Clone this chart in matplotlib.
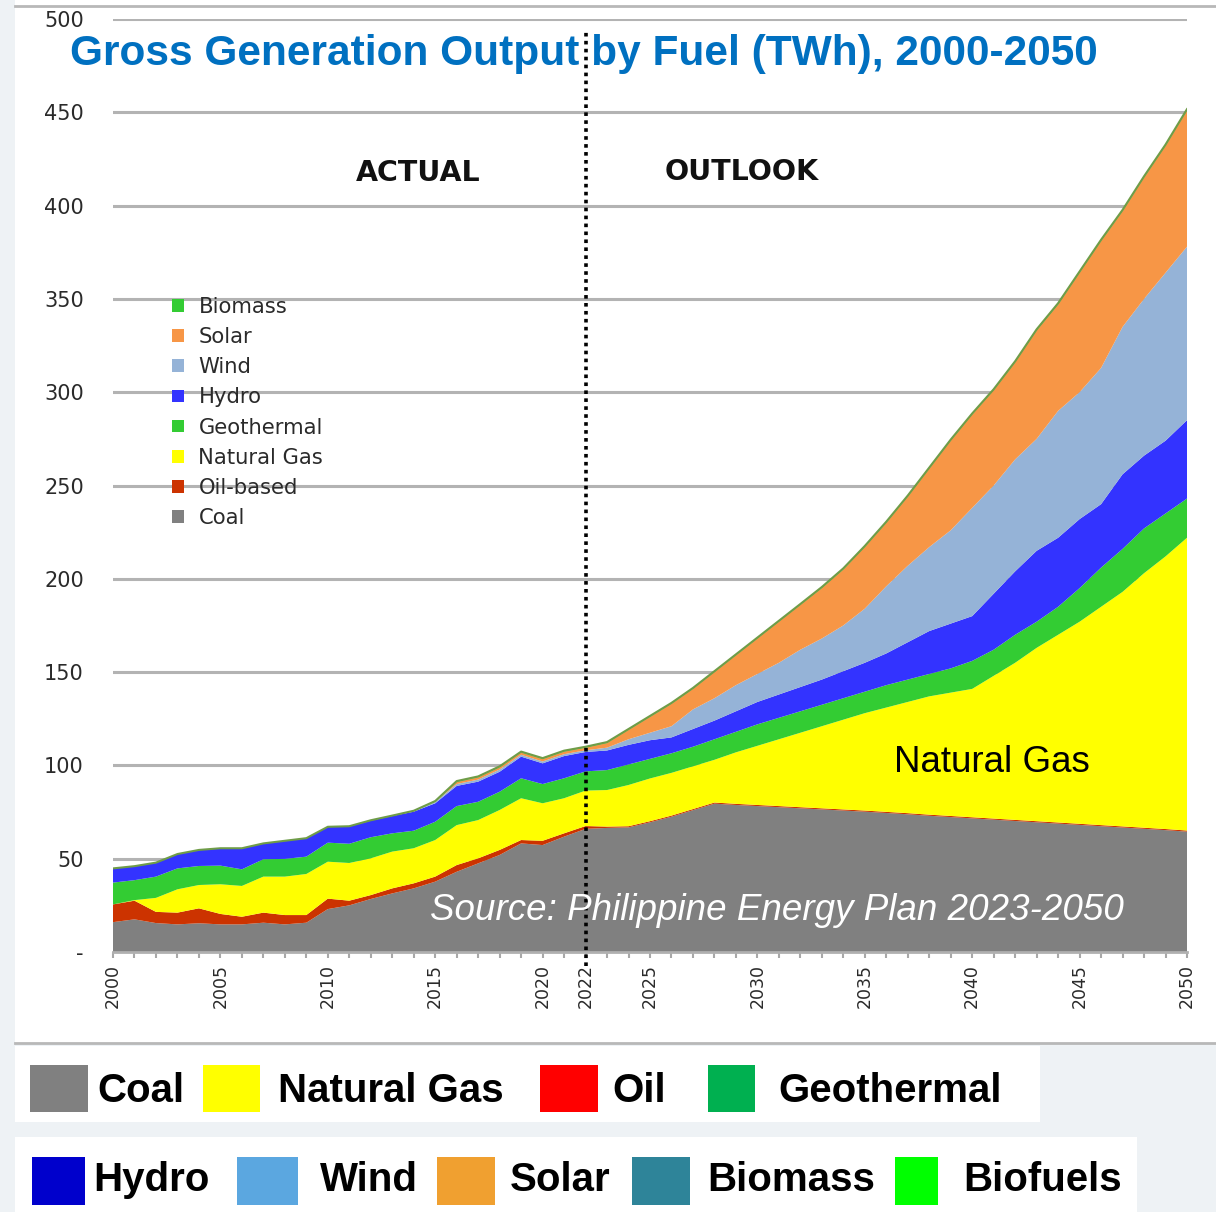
import matplotlib.pyplot as plt
from matplotlib.patches import Patch, Rectangle
import numpy as np

years = list(range(2000, 2051))

# TWh by fuel, 2000-2022 actual then 2023-2050 outlook
coal = [16.0, 17.5, 15.5, 14.8, 15.4, 14.8, 14.8, 15.7, 14.8, 15.7, 23.0, 25.0,
        28.4, 31.4, 34.1, 37.7, 43.0, 47.5, 52.0, 58.2, 57.3, 61.8, 66.0,
        66.5, 66.8, 69.5, 72.5, 76.0, 79.5, 78.8, 78.2, 77.6, 77.0, 76.4, 75.8,
        75.2, 74.5, 73.8, 73.0, 72.3, 71.6, 70.9, 70.2, 69.5, 68.8, 68.1, 67.4,
        66.7, 66.0, 65.3, 64.5]
oil = [9.5, 10.0, 6.0, 6.3, 8.0, 5.6, 4.1, 5.4, 5.0, 4.1, 5.6, 2.5,
       2.1, 2.7, 2.7, 2.7, 3.6, 2.7, 2.7, 1.8, 2.3, 1.8, 1.5,
       0.7, 0.6, 0.6, 0.6, 0.6, 0.6, 0.6, 0.6, 0.6, 0.6, 0.6, 0.6,
       0.6, 0.6, 0.6, 0.6, 0.6, 0.6, 0.6, 0.6, 0.6, 0.6, 0.6, 0.6,
       0.6, 0.6, 0.6, 0.6]
gas = [0.0, 0.3, 7.5, 12.5, 12.5, 15.9, 16.5, 19.3, 20.6, 22.0, 19.8, 20.2,
       19.7, 19.7, 18.8, 19.6, 21.4, 20.5, 21.4, 22.4, 20.1, 18.8, 19.0,
       19.6, 22.1, 22.9, 22.9, 22.9, 22.9, 27.6, 31.7, 35.8, 39.9, 44.0, 48.1,
       52.2, 55.9, 59.6, 63.4, 66.1, 68.8, 76.5, 84.2, 92.9, 100.6, 108.3, 117.0,
       125.7, 136.4, 146.1, 156.9]
geothermal = [11.7, 10.7, 11.4, 11.2, 10.2, 10.0, 8.9, 9.3, 9.5, 9.3, 10.2, 10.3,
              11.3, 9.8, 9.4, 9.8, 10.2, 9.8, 9.8, 10.7, 10.3, 10.7, 10.3,
              10.7, 11.0, 10.5, 10.5, 10.5, 11.0, 11.0, 11.5, 11.5, 11.5, 11.5, 11.5,
              11.5, 12.0, 12.0, 12.0, 13.0, 15.0, 14.0, 15.0, 14.0, 15.0, 18.0, 21.0,
              23.0, 24.0, 23.0, 21.0]
hydro = [7.6, 7.5, 7.5, 7.7, 8.6, 9.3, 11.3, 8.5, 9.7, 9.8, 8.4, 9.3,
         8.9, 9.3, 10.2, 9.9, 10.8, 10.8, 10.7, 11.6, 11.1, 11.9, 10.4,
         10.5, 10.5, 10.0, 8.5, 9.5, 10.0, 11.0, 12.0, 12.5, 13.0, 13.5, 14.5,
         15.5, 17.0, 20.0, 23.0, 24.0, 24.0, 30.0, 34.0, 38.0, 37.0, 37.0, 34.0,
         40.0, 39.0, 39.0, 42.0]
wind = [0.0, 0.0, 0.0, 0.0, 0.0, 0.0, 0.0, 0.0, 0.0, 0.0, 0.0, 0.0,
        0.0, 0.0, 0.3, 0.7, 1.0, 1.1, 1.2, 1.0, 1.0, 1.0, 0.9,
        1.5, 3.0, 4.0, 6.0, 10.5, 12.0, 14.0, 15.0, 17.0, 20.0, 22.0, 24.5,
        29.0, 36.0, 41.0, 45.0, 50.0, 58.0, 58.0, 60.0, 60.0, 68.0, 68.0, 73.0,
        79.0, 84.0, 90.0, 93.0]
solar = [0.0, 0.0, 0.0, 0.0, 0.0, 0.0, 0.0, 0.0, 0.0, 0.0, 0.0, 0.0,
         0.0, 0.0, 0.0, 0.1, 1.1, 1.2, 1.2, 1.2, 1.3, 1.4, 1.4,
         2.5, 5.0, 8.5, 12.0, 11.0, 14.0, 16.0, 19.0, 22.0, 24.0, 27.0, 30.0,
         33.0, 34.0, 37.0, 42.0, 48.0, 50.0, 51.0, 52.0, 58.0, 57.0, 64.0, 68.0,
         62.0, 65.0, 68.0, 73.0]
biomass = [0.0, 0.0, 0.0, 0.0, 0.0, 0.0, 0.0, 0.0, 0.0, 0.1, 0.1, 0.1,
           0.2, 0.2, 0.2, 0.4, 0.5, 0.5, 0.5, 0.5, 0.5, 0.5, 0.5,
           0.5, 0.5, 0.5, 0.5, 0.5, 0.5, 0.5, 0.5, 0.5, 0.5, 0.6, 0.6,
           0.6, 0.6, 0.6, 0.6, 0.6, 0.6, 0.6, 0.6, 0.7, 0.7, 0.7, 0.7,
           0.7, 0.7, 0.7, 0.7]

series = [coal, oil, gas, geothermal, hydro, wind, solar, biomass]
fill_colors = ['#808080', '#cc3300', '#ffff00', '#33cc33', '#3333ff',
               '#95b3d7', '#f79646', '#33cc33']

legend_labels = ['Biomass', 'Solar', 'Wind', 'Hydro', 'Geothermal',
                 'Natural Gas', 'Oil-based', 'Coal']
legend_colors = ['#33cc33', '#f79646', '#95b3d7', '#3333ff', '#33cc33',
                 '#ffff00', '#cc3300', '#808080']

xtick_years = [2000, 2005, 2010, 2015, 2020, 2022, 2025, 2030, 2035, 2040, 2045, 2050]
ytick_vals = list(range(0, 501, 50))

key_row1 = ['Coal', 'Natural Gas', 'Oil', 'Geothermal']
key_row1_colors = ['#808080', '#ffff00', '#ff0000', '#00b050']
key_row2 = ['Hydro', 'Wind', 'Solar', 'Biomass', 'Biofuels']
key_row2_colors = ['#0000cc', '#5ba7e0', '#f0a030', '#2e8499', '#00ff00']

W, H = 1216, 1212
def fx(x):
    return x / W
def fy(y):
    return 1 - y / H

fig = plt.figure(figsize=(W / 100, H / 100), dpi=100, facecolor='#eef2f5')

# white panels behind everything
for (x0, y0, x1, y1) in [(15, 0, W, 1043), (15, 1046, 1040, 1122), (15, 1137, 1137, 1212)]:
    fig.patches.append(Rectangle((fx(x0), fy(y1)), (x1 - x0) / W, (y1 - y0) / H,
                                 transform=fig.transFigure, facecolor='white',
                                 edgecolor='none', zorder=-5))
for yy in [6, 1043]:
    fig.lines.append(plt.Line2D([fx(15), 1], [fy(yy), fy(yy)], transform=fig.transFigure,
                                color='#b8b8b8', lw=2, zorder=-4))

ax = fig.add_axes([fx(113), fy(952), (1187 - 113) / W, (952 - 19) / H])
ax.set_facecolor('none')

ax.stackplot(years, *series, colors=fill_colors, linewidth=0, zorder=2)
total = np.sum(np.array(series), axis=0)
ax.plot(years, total, color='#6f9c48', lw=1.5, zorder=3)

ax.set_xlim(2000, 2050)
ax.set_ylim(0, 500)
ax.set_yticks(ytick_vals)
ax.set_yticklabels(['-'] + [str(v) for v in ytick_vals[1:]])
ax.set_xticks(xtick_years)
ax.set_xticklabels([str(y) for y in xtick_years], rotation=90)
ax.set_xticks(years, minor=True)

ax.yaxis.grid(True, color='#b3b3b3', lw=2.2)
ax.set_axisbelow(True)
for s in ['left', 'top', 'right']:
    ax.spines[s].set_visible(False)
ax.spines['bottom'].set_color('#b0b0b0')
ax.spines['bottom'].set_linewidth(2)

ax.tick_params(axis='y', length=0, pad=21, labelsize=15, labelcolor='#2a2a2a')
ax.tick_params(axis='x', which='both', length=4.5, width=1.5, color='#a8a8a8',
               pad=4, labelsize=12.5, labelcolor='#2a2a2a')

# divider between actual and outlook
ax.axvline(2022, ymin=-0.015, ymax=0.988, color='black', ls=(0, (1, 1.2)), lw=2.6,
           clip_on=False, zorder=5)

handles = [Patch(facecolor=c, edgecolor='none') for c in legend_colors]
ax.legend(handles, legend_labels, loc='upper left', bbox_to_anchor=(fx(172), fy(297)),
          bbox_transform=fig.transFigure, frameon=False, fontsize=15.2,
          handlelength=0.55, handleheight=0.55, handletextpad=0.7,
          labelspacing=0.48, borderpad=0, borderaxespad=0, labelcolor='#2a2a2a')

fig.text(fx(584), fy(54), 'Gross Generation Output by Fuel (TWh), 2000-2050',
         ha='center', va='center', fontsize=30.5, fontweight='bold',
         color='#0070c0', family='Liberation Sans', zorder=10)
fig.text(fx(418), fy(173), 'ACTUAL', ha='center', va='center', fontsize=20.5,
         fontweight='bold', color='#111111')
fig.text(fx(742), fy(172), 'OUTLOOK', ha='center', va='center', fontsize=20.5,
         fontweight='bold', color='#111111')
fig.text(fx(992), fy(763), 'Natural Gas', ha='center', va='center', fontsize=26.5,
         color='black', family='Liberation Sans', zorder=10)
fig.text(fx(777), fy(910), 'Source: Philippine Energy Plan 2023-2050', ha='center',
         va='center', fontsize=26.5, style='italic', color='white',
         family='Liberation Sans', zorder=10)

# bottom colour key
row1_sq = [(30, 88), (203, 260), (540, 598), (708, 755)]
row1_tx = [97, 278, 612, 778]
row2_sq = [(32, 85), (237, 298), (437, 495), (632, 690), (895, 938)]
row2_tx = [93, 320, 510, 707, 963]

for lab, col, (x0, x1), tx in zip(key_row1, key_row1_colors, row1_sq, row1_tx):
    fig.patches.append(Rectangle((fx(x0), fy(1112)), (x1 - x0) / W, 47 / H,
                                 transform=fig.transFigure, facecolor=col, edgecolor='none'))
    fig.text(fx(tx), fy(1091), lab, ha='left', va='center', fontsize=29,
             fontweight='bold', family='Liberation Sans', color='black')
for lab, col, (x0, x1), tx in zip(key_row2, key_row2_colors, row2_sq, row2_tx):
    fig.patches.append(Rectangle((fx(x0), fy(1205)), (x1 - x0) / W, 48 / H,
                                 transform=fig.transFigure, facecolor=col, edgecolor='none'))
    fig.text(fx(tx), fy(1180), lab, ha='left', va='center', fontsize=29,
             fontweight='bold', family='Liberation Sans', color='black')

fig.savefig('out.png', dpi=100, facecolor=fig.get_facecolor())
